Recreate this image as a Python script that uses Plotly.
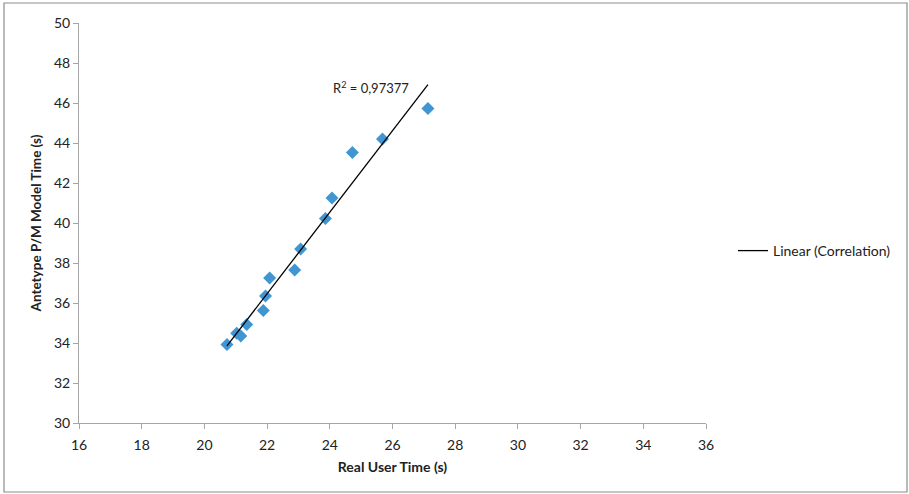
import numpy as np
import plotly.graph_objects as go

# Data
real_user_time = [20.72, 21.03, 21.16, 21.35, 21.88, 21.95, 22.08, 22.88, 23.07, 23.86, 24.07, 24.72, 25.68, 27.13]
model_time = [33.93, 34.49, 34.35, 34.93, 35.62, 36.35, 37.25, 37.65, 38.70, 40.23, 41.25, 43.52, 44.20, 45.72]
x_ticks = [16, 18, 20, 22, 24, 26, 28, 30, 32, 34, 36]
y_ticks = [30, 32, 34, 36, 38, 40, 42, 44, 46, 48, 50]
r2_label = "R<sup>2</sup> = 0,97377"
trend_name = "Linear (Correlation)"

# Linear trendline (least squares fit over data range)
slope, intercept = np.polyfit(real_user_time, model_time, 1)
tx = [min(real_user_time), max(real_user_time)]
ty = [slope * v + intercept for v in tx]

FONT = "Lato"
AXIS_COLOR = "#a6a6a6"
TXT = "#222222"

fig = go.Figure()
fig.add_trace(go.Scatter(
    x=real_user_time, y=model_time, mode="markers",
    marker=dict(symbol="diamond", size=10, color="#4096d2"),
    showlegend=False, name="Correlation",
))
fig.add_trace(go.Scatter(
    x=tx, y=ty, mode="lines",
    line=dict(color="#000000", width=1.3),
    name=trend_name, showlegend=True,
))

fig.add_annotation(
    x=tx[1], y=ty[1], xref="x", yref="y",
    text=r2_label, showarrow=False,
    xanchor="right", yanchor="middle", xshift=-17, yshift=-3,
    font=dict(family=FONT, size=13, color=TXT),
)

# Outer frame
W, H = 909, 494
L, R, T, B = 79, 203, 23, 71
pw, ph = W - L - R, H - T - B
def px_x(p):
    return (p - L) / pw
def px_y(p):
    return (H - B - p) / ph
fig.add_shape(type="rect", xref="paper", yref="paper",
              x0=px_x(4), x1=px_x(907), y0=px_y(492), y1=px_y(3),
              line=dict(color="#8c8c8c", width=1.2), layer="below")

fig.update_layout(
    width=W, height=H,
    margin=dict(l=L, r=R, t=T, b=B),
    paper_bgcolor="white", plot_bgcolor="white",
    font=dict(family=FONT, size=14, color=TXT),
    legend=dict(x=px_x(733), y=px_y(251), xanchor="left", yanchor="middle",
                font=dict(family=FONT, size=14, color=TXT),
                bgcolor="rgba(0,0,0,0)", itemwidth=30),
    xaxis=dict(
        range=[16, 36], tickvals=x_ticks, ticktext=[str(v) for v in x_ticks],
        showgrid=False, zeroline=False, showline=True, linecolor=AXIS_COLOR, linewidth=1,
        ticks="outside", ticklen=5, tickcolor=AXIS_COLOR, ticklabelstandoff=4,
        title=dict(text="<b>Real User Time (s)</b>", font=dict(family=FONT, size=14, color=TXT), standoff=10),
        tickfont=dict(family=FONT, size=14, color=TXT),
    ),
    yaxis=dict(
        range=[30, 50], tickvals=y_ticks, ticktext=[str(v) for v in y_ticks],
        showgrid=False, zeroline=False, showline=True, linecolor=AXIS_COLOR, linewidth=1,
        ticks="outside", ticklen=5, tickcolor=AXIS_COLOR,
        title=dict(text="<b>Antetype P/M Model Time (s)</b>", font=dict(family=FONT, size=13.5, color=TXT), standoff=9),
        tickfont=dict(family=FONT, size=14, color=TXT),
    ),
)

fig.write_html("out.html", config={"displayModeBar": False},
               post_script="document.body.style.margin='0px';")
